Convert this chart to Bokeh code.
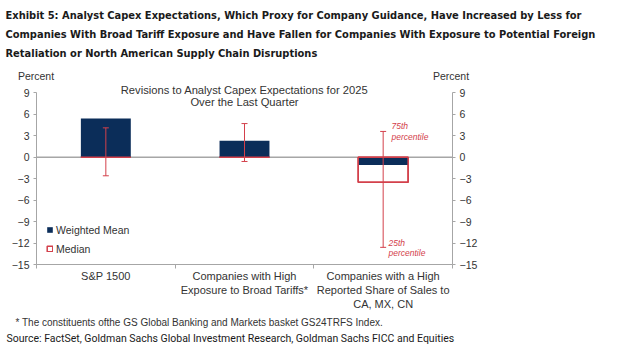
from bokeh.plotting import figure
from bokeh.models import (Range1d, LinearAxis, FixedTicker, Label, Whisker,
                          ColumnDataSource, TeeHead, Legend, LegendItem)
from bokeh.embed import file_html
from bokeh.resources import INLINE

# ---- data ----
categories = ["S&P 1500",
              "Companies with High\nExposure to Broad Tariffs*",
              "Companies with a High\nReported Share of Sales to\nCA, MX, CN"]
weighted_mean = [5.4, 2.3, -1.1]
median = [0.0, 0.0, -3.5]
pct25 = [-2.6, -0.6, -12.6]
pct75 = [4.1, 4.7, 3.6]
y_ticks = [9, 6, 3, 0, -3, -6, -9, -12, -15]
y_min, y_max = -15, 9

NAVY = "#0b2d59"
RED = "#d3404b"
GRAY = "#a6a6a6"
TXT = "#333333"

n = len(categories)
xs = [i + 0.5 for i in range(n)]
src = ColumnDataSource(dict(x=xs, mean=weighted_mean, med=median,
                            lo=pct25, hi=pct75, zero=[0.0] * n))

# plotting area in canvas px: x 36..452, y 92.3..264
PX_X = 416 / n
PX_Y = 171.7 / (y_max - y_min)
def dx(px):
    return (px - 36) / PX_X
def dy(py):
    return y_max - (py - 92.3) / PX_Y

W, H = 604, 347
p = figure(width=W, height=H, output_backend="svg", toolbar_location=None,
           x_range=Range1d(dx(0), dx(W)), y_range=Range1d(dy(H), dy(0)),
           min_border=0, x_axis_type=None, y_axis_type=None)
p.outline_line_color = None
p.xgrid.visible = False
p.ygrid.visible = False

# axes
for side, loc in (("left", 0), ("right", n)):
    ax = LinearAxis(ticker=FixedTicker(ticks=y_ticks, minor_ticks=[]),
                    fixed_location=loc, bounds=(y_min, y_max))
    ax.axis_line_color = GRAY
    ax.major_tick_line_color = GRAY
    ax.major_tick_in = 0
    ax.major_tick_out = 3
    ax.minor_tick_line_color = None
    ax.major_label_text_font = "Liberation Sans"
    ax.major_label_text_font_size = "10.5px"
    ax.major_label_text_color = TXT
    ax.major_label_standoff = 4
    p.add_layout(ax, side)

bx = LinearAxis(ticker=FixedTicker(ticks=xs, minor_ticks=list(range(n + 1))),
                fixed_location=y_min, bounds=(0, n))
bx.major_label_overrides = {x: c for x, c in zip(xs, categories)}
bx.axis_line_color = GRAY
bx.major_tick_line_color = None
bx.major_tick_in = 0
bx.major_tick_out = 0
bx.minor_tick_line_color = GRAY
bx.minor_tick_in = 0
bx.minor_tick_out = 4
bx.major_label_text_font = "Liberation Sans"
bx.major_label_text_font_size = "11px"
bx.major_label_text_color = TXT
bx.major_label_text_line_height = 1.2
bx.major_label_standoff = 1
p.add_layout(bx, "below")

# zero line across the plotting area
p.segment(x0=[0], x1=[n], y0=[0], y1=[0], line_color=GRAY, line_width=1.5)

# bars
r_med = p.vbar(x="x", width=0.36, top="med", bottom="zero", source=src,
               fill_color="white", line_color=RED, line_width=1.5)
r_mean = p.vbar(x="x", width=0.36, top="mean", bottom="zero", source=src,
                fill_color=NAVY, line_color=None)
p.vbar(x="x", width=0.36, top="med", bottom="zero", source=src,
       fill_color=None, line_color=RED, line_width=1.5)

wh = Whisker(base="x", lower="lo", upper="hi", source=src, dimension="height",
             line_color=RED, line_width=1, level="overlay",
             upper_head=TeeHead(size=6, line_color=RED, line_width=1),
             lower_head=TeeHead(size=6, line_color=RED, line_width=1))
p.add_layout(wh)

# legend (bottom-left corner in frame px from bottom-left)
legend = Legend(items=[LegendItem(label="Weighted Mean", renderers=[r_mean]),
                       LegendItem(label="Median", renderers=[r_med])],
                location=(46, H - 255), margin=0, padding=0, spacing=6,
                glyph_width=7, glyph_height=7, label_height=13,
                label_standoff=3, label_text_font="Liberation Sans",
                label_text_font_size="10.5px", label_text_color=TXT,
                background_fill_alpha=0, border_line_color=None)
p.add_layout(legend)

def lab(x, y, t, size="10.5px", font="Liberation Sans", color=TXT, align="left",
        style="normal", baseline="middle"):
    p.add_layout(Label(x=x, y=y, text=t, text_font=font, text_font_size=size,
                       text_color=color, text_align=align, text_baseline=baseline,
                       text_font_style=style))

# inner titles / axis units
lab(n / 2, dy(89), "Revisions to Analyst Capex Expectations for 2025", size="11.2px", align="center")
lab(n / 2, dy(101), "Over the Last Quarter", size="11.2px", align="center")
lab(dx(35.5), dy(75), "Percent", align="center")
lab(dx(450.5), dy(75), "Percent", align="center")

# percentile annotations
lab(dx(391), dy(125), "75th", size="8.5px", color=RED, style="italic")
lab(dx(391), dy(136), "percentile", size="8.5px", color=RED, style="italic")
lab(dx(388), dy(242), "25th", size="8.5px", color=RED, style="italic")
lab(dx(388), dy(252), "percentile", size="8.5px", color=RED, style="italic")

# exhibit title
TITLE = ["Exhibit 5: Analyst Capex Expectations, Which Proxy for Company Guidance, Have Increased by Less for",
         "Companies With Broad Tariff Exposure and Have Fallen for Companies With Exposure to Potential Foreign",
         "Retaliation or North American Supply Chain Disruptions"]
for t, yy in zip(TITLE, [15, 34, 53]):
    lab(dx(5), dy(yy), t, size="11px", font="DejaVu Sans Condensed", color="#1a1a1a",
        style="bold")

lab(dx(15), dy(322), "* The constituents ofthe GS Global Banking and Markets basket GS24TRFS Index.",
    size="10px", font="Liberation Sans", color=TXT)
lab(dx(6), dy(338), "Source: FactSet, Goldman Sachs Global Investment Research, Goldman Sachs FICC and Equities",
    size="10.5px", font="Roboto", color="#1a1a1a")

open("out.html", "w").write(file_html(p, INLINE))
